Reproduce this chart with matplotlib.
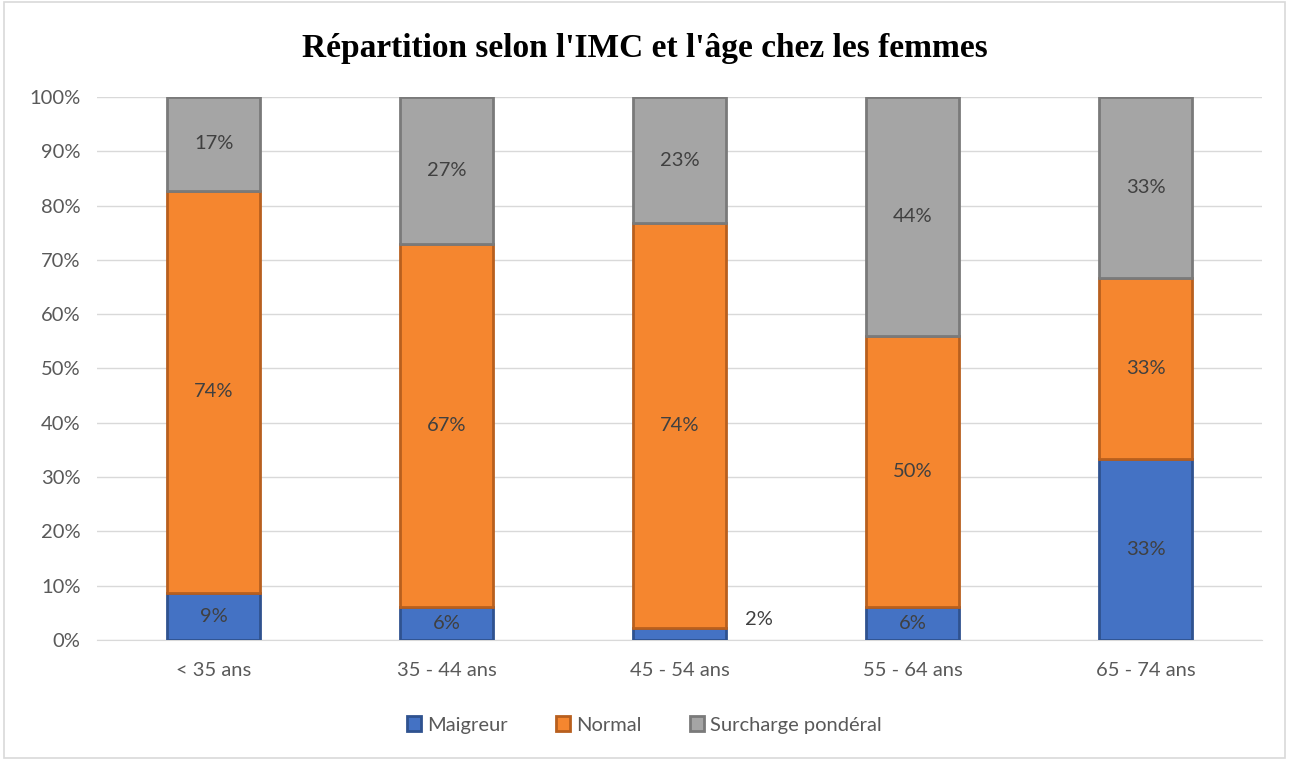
import matplotlib
matplotlib.use("Agg")
import matplotlib.pyplot as plt
import numpy as np
from matplotlib.patches import Rectangle

categories = ["< 35 ans", "35 - 44 ans", "45 - 54 ans", "55 - 64 ans", "65 - 74 ans"]
maigreur = [8.7, 6.0, 2.3, 6.0, 33.3]
normal = [74.0, 67.0, 74.4, 50.0, 33.3]
surcharge = [17.3, 27.0, 23.3, 44.0, 33.4]
series_names = ["Maigreur", "Normal", "Surcharge pondéral"]
yticks = [0, 10, 20, 30, 40, 50, 60, 70, 80, 90, 100]

colors = ["#4472C4", "#F5862F", "#A5A5A5"]
edges = ["#2F528F", "#B85F1E", "#7A7A7A"]
txt = "#404040"
font = "Lato"

fig = plt.figure(figsize=(12.89, 7.6), dpi=100)
fig.patches.append(Rectangle((0.003, 0.003), 0.994, 0.994, transform=fig.transFigure,
                             fill=False, edgecolor="#D9D9D9", linewidth=1.2))
ax = fig.add_axes([0.0753, 0.1579, 0.9037, 0.7145])

x = np.arange(len(categories))
w = 0.40
bottom = np.zeros(len(categories))
for vals, name, c, e in zip([maigreur, normal, surcharge], series_names, colors, edges):
    vals = np.array(vals)
    ax.bar(x, vals, w, bottom=bottom, color=c, edgecolor=e, linewidth=2,
           label=name, zorder=3)
    for i, (v, b) in enumerate(zip(vals, bottom)):
        lab = f"{round(v):.0f}%"
        if v < 4:
            ax.text(x[i] + w / 2 + 0.08, b + v / 2 + 2.6, lab, ha="left", va="center",
                    fontsize=14.5, color=txt, family=font)
        else:
            ax.text(x[i], b + v / 2, lab, ha="center", va="center",
                    fontsize=14.5, color=txt, family=font, zorder=4)
    bottom = bottom + vals

ax.set_xlim(-0.5, len(categories) - 0.5)
ax.set_ylim(0, 100)
ax.set_yticks(yticks)
ax.set_yticklabels([f"{t}%" for t in yticks], fontsize=14.5, color="#595959", family=font)
ax.set_xticks(x)
ax.set_xticklabels(categories, fontsize=14.5, color="#595959", family=font)
ax.tick_params(axis="y", length=0, pad=12)
ax.tick_params(axis="x", length=0, pad=16)
ax.yaxis.grid(True, color="#D9D9D9", linewidth=1, zorder=0)
ax.set_axisbelow(True)
for s in ["top", "right", "left"]:
    ax.spines[s].set_visible(False)
ax.spines["bottom"].set_color("#D9D9D9")

fig.text(0.5, 0.936, "Répartition selon l'IMC et l'âge chez les femmes", ha="center",
         va="center", fontsize=24, fontweight="bold", family="Liberation Serif", color="black")

leg = fig.legend(loc="center", bbox_to_anchor=(0.5, 0.046), ncol=3, frameon=False,
                 prop={"family": font, "size": 14.5}, handlelength=0.7, handleheight=0.7,
                 columnspacing=2.4, handletextpad=0.3)
for t in leg.get_texts():
    t.set_color("#595959")

fig.savefig("out.png", dpi=100)
